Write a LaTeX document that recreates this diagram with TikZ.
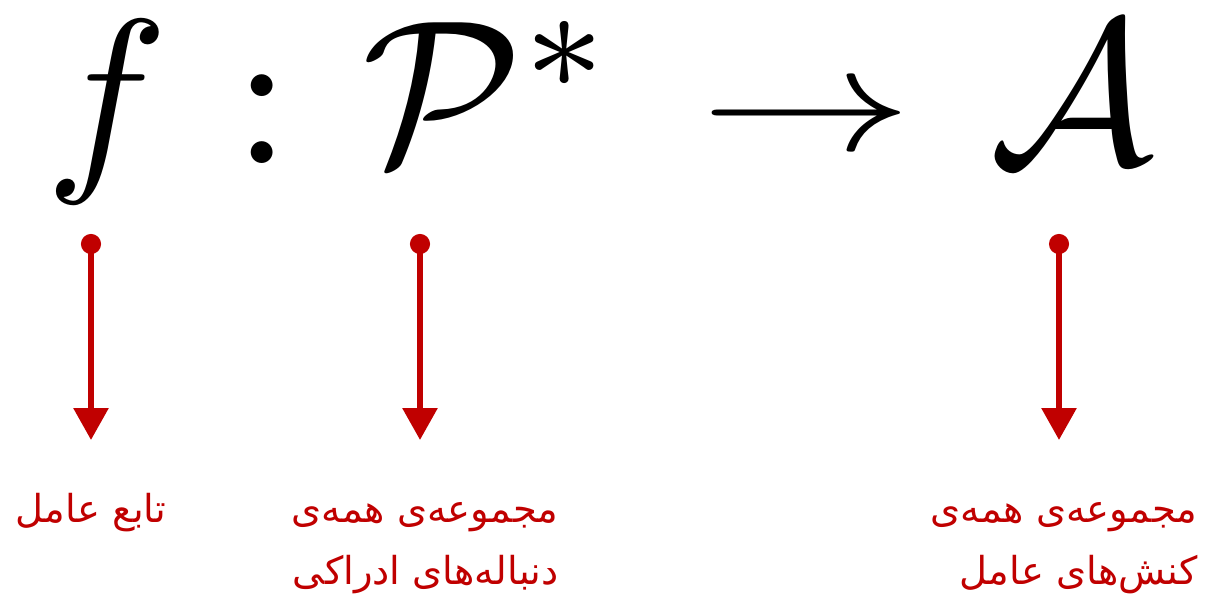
\documentclass[tikz,border=0pt]{standalone}
\usepackage{fontspec}
\usepackage{tikz}
\usetikzlibrary{arrows.meta,calc}
\TeXXeTstate=1
\newfontfamily\farsifont[Script=Arabic]{DejaVu Sans}
\definecolor{dRed}{RGB}{192,0,0}
\tikzset{
  sym/.style={inner sep=0pt, anchor=base, scale=20.6},
  arr/.style={inner sep=0pt, anchor=base, xscale=21.2, yscale=15},
  pointer/.style={{Circle[length=20pt]}-{Triangle[length=32pt,width=34pt]},
                  draw=dRed, line width=6pt},
  lbl/.style={font=\farsifont\fontsize{38.5}{62}\selectfont, text=dRed,
              align=right, inner sep=0pt, anchor=base},
}

\begin{document}
\begin{tikzpicture}[x=1pt,y=1pt]
  \useasboundingbox (0,0) rectangle (1205,598);

  % ---- the formula f : P* -> A ----
  \node[sym] (f)   at (107,435) {$f$};
  \node[sym] (col) at (262,435) {$:$};
  \node[sym] (P)   at (490,435) {$\mathcal{P}^*$};
  \node[arr] (to)  at (806,447.5) {$\rightarrow$};
  \node[sym] (A)   at (1072,435) {$\mathcal{A}$};

  % ---- labels (base = last line) ----
  \node[lbl] (lf) at (91,76)   {\beginR تابع عامل\endR};
  \node[lbl] (lP) at (425,14)  {\beginR مجموعه^^^^200cی همه^^^^200cی\endR\\
                                \beginR دنباله^^^^200cهای ادراکی\endR};
  \node[lbl] (lA) at (1064,14) {\beginR مجموعه^^^^200cی همه^^^^200cی\endR\\
                                \beginR کنش^^^^200cهای عامل\endR};

  % ---- pointers ----
  \coordinate (df) at (91,364);
  \coordinate (dP) at (420,364);
  \coordinate (dA) at (1059,364);
  \draw[pointer] (df) -- (df |- {$(lf.base)+(0,82)$});
  \draw[pointer] (dP) -- (dP |- {$(lP.base)+(0,144)$});
  \draw[pointer] (dA) -- (dA |- {$(lA.base)+(0,144)$});
\end{tikzpicture}
\end{document}
